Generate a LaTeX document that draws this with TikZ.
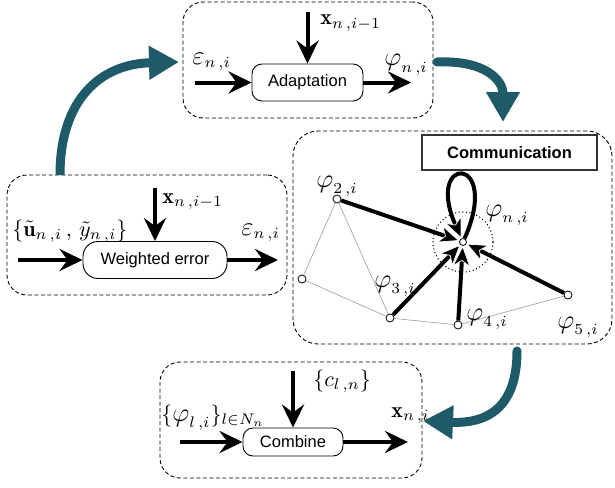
\documentclass[tikz,border=0pt]{standalone}
\usepackage{amsmath}
\usepackage{fontspec}
\setsansfont{Liberation Sans}
\usetikzlibrary{arrows.meta}
\definecolor{tealarrow}{HTML}{1E5A68}
\newcommand{\Lphi}{\mbox{\large$\varphi$}}
\newcommand{\Leps}{\mbox{\large$\varepsilon$}}
\newcommand{\sub}[2]{#1\,,#2}
\begin{document}
\begin{tikzpicture}[x=1pt,y=-1pt,
  grp/.style={draw, dash pattern=on 4pt off 2.5pt, rounded corners=20pt, line width=0.9pt, inner sep=0pt},
  blk/.style={draw, rounded corners=10pt, line width=0.9pt, inner sep=0pt, font=\sffamily\fontsize{16.5}{19}\selectfont},
  bar/.style={line width=4pt, -{Stealth[length=23pt,width=22pt,inset=8pt]}},
  nbar/.style={line width=4pt, -{Stealth[length=21pt,width=18pt,inset=6pt,color=white,fill=black,line width=0.7pt]}},
  lbl/.style={scale=2.2, inner sep=0pt, anchor=base west},
  tarr/.style={line width=9pt, draw=tealarrow, -{Triangle[length=30pt,width=32pt]}},
  pt/.style={circle, draw, fill=white, minimum size=8pt, inner sep=0pt, line width=0.8pt},
  thin/.style={draw=gray!70, line width=0.7pt}
]
\useasboundingbox (0,0) rectangle (615,487);

% ---------- Adaptation group ----------
\node[grp, minimum width=250pt, minimum height=116pt] (gA) at (308,60) {};
\node[blk, minimum width=111pt, minimum height=37pt] (adapt) at (307.5,82.5) {Adaptation};
\coordinate (aIn) at (195,82.5);
\coordinate (aTop) at (307.5,12);
\coordinate (aOut) at (411,82.5);
\draw[bar] (aIn) -- (adapt.west);
\draw[bar] (aTop) -- (adapt.north);
\draw[bar] (adapt.east) -- (aOut);
\node[lbl] (lA1) at (320,25) {$\mathbf{x}_{\sub{n}{i-1}}$};
\node[lbl] (lA2) at (192,64) {$\Leps_{\sub{n}{i}}$};
\node[lbl] (lA3) at (384,66) {$\Lphi_{\sub{n}{i}}$};

% ---------- Weighted error group ----------
\node[grp, minimum width=280pt, minimum height=120pt] (gW) at (147,235) {};
\node[blk, rounded corners=15pt, minimum width=144pt, minimum height=37pt] (werr) at (155,260) {Weighted error};
\coordinate (wIn) at (18,260);
\coordinate (wTop) at (155,188);
\coordinate (wOut) at (278,260);
\draw[bar] (wIn) -- (werr.west);
\draw[bar] (wTop) -- (werr.north);
\draw[bar] (werr.east) -- (wOut);
\node[lbl] (lW1) at (162,203) {$\mathbf{x}_{\sub{n}{i-1}}$};
\node[lbl] (lW2) at (12,236) {$\{\tilde{\mathbf{u}}_{\sub{n}{i}}\,,\,\tilde{y}_{\sub{n}{i}}\}$};
\node[lbl] (lW3) at (241,235) {$\Leps_{\sub{n}{i}}$};

% ---------- Communication group ----------
\node[grp, rounded corners=25pt, minimum width=319pt, minimum height=213pt] (gC) at (452.5,237.5) {};
\node[draw=black!80, line width=1.1pt, minimum width=175pt, minimum height=35pt, inner sep=0pt,
      font=\sffamily\bfseries\fontsize{16.5}{19}\selectfont] (comm) at (509.5,152.5) {Communication};

\node[pt] (n1) at (302,279) {};
\node[pt] (n2) at (337,199) {};
\node[pt] (n3) at (390,318) {};
\node[pt] (n4) at (458,325) {};
\node[pt] (n5) at (568,295) {};
\node[pt, minimum size=7pt] (nc) at (463,242) {};
\node[circle, draw, dash pattern=on 1pt off 2.6pt, line width=1.1pt, minimum size=60pt, inner sep=0pt] (dc) at (463,242) {};

\draw[thin] (n1) -- (n2);
\draw[thin] (n2) -- (n3);
\draw[thin] (n1) -- (n3);
\draw[thin] (n3) -- (n4);
\draw[thin] (n4) -- (n5);

\draw[nbar] (n2) -- (nc);
\draw[nbar] (n3) -- (nc);
\draw[nbar] (n4) -- (nc);
\draw[nbar] (n5) -- (nc);
\draw[nbar] (nc) .. controls (502,154) and (424,154) .. (nc);

\node[lbl] (l2) at (316,187) {$\Lphi_{\sub{2}{i}}$};
\node[lbl] (ln) at (485,216) {$\Lphi_{\sub{n}{i}}$};
\node[lbl] (l3) at (374,287) {$\Lphi_{\sub{3}{i}}$};
\node[lbl] (l4) at (466,320) {$\Lphi_{\sub{4}{i}}$};
\node[lbl] (l5) at (557,328) {$\Lphi_{\sub{5}{i}}$};

% ---------- Combine group ----------
\node[grp, minimum width=262pt, minimum height=116pt] (gK) at (291,420) {};
\node[blk, minimum width=100pt, minimum height=28pt] (comb) at (293,442) {Combine};
\coordinate (kIn) at (180,442);
\coordinate (kTop) at (293,371);
\coordinate (kOut) at (408,442);
\draw[bar] (kIn) -- (comb.west);
\draw[bar] (kTop) -- (comb.north);
\draw[bar] (comb.east) -- (kOut);
\node[lbl] (lK1) at (313,386) {$\{c_{\sub{l}{n}}\}$};
\node[lbl] (lK2) at (161,421) {$\{\Lphi_{\sub{l}{i}}\}_{l\in N_n}$};
\node[lbl] (lK3) at (391,417) {$\mathbf{x}_{\sub{n}{i}}$};

% ---------- teal flow arrows ----------
\coordinate (t1s) at (60,175);
\coordinate (t1e) at (179,62);
\draw[tarr] (t1s) .. controls (60,100) and (100,64) .. (t1e);
\coordinate (t2s) at (437,62);
\coordinate (t2e) at (503,122);
\draw[tarr, line cap=round] (t2s) .. controls (485,60) and (503,80) .. (t2e);
\coordinate (t3s) at (517,351);
\coordinate (t3e) at (423,421);
\draw[tarr, line cap=round] (t3s) .. controls (517,405) and (490,424) .. (t3e);
\end{tikzpicture}
\end{document}
